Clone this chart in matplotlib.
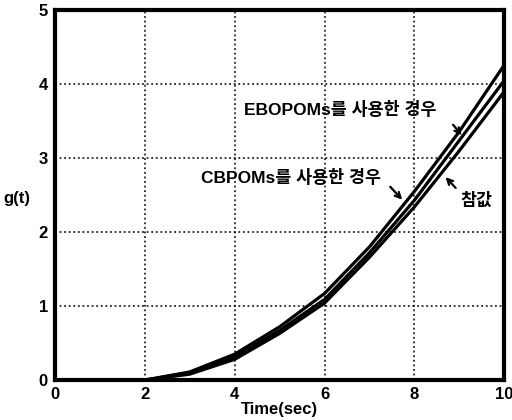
import numpy as np
import matplotlib
matplotlib.use("Agg")
import matplotlib.pyplot as plt

plt.rcParams['font.family'] = ['Liberation Sans', 'Noto Sans CJK KR']
plt.rcParams['font.weight'] = 'bold'

# values
t = [0, 1, 2, 3, 4, 5, 6, 7, 8, 9, 10]
g_ebopoms = [0, 0, 0, 0.11, 0.35, 0.72, 1.17, 1.80, 2.55, 3.36, 4.26]
g_cbpoms = [0, 0, 0, 0.10, 0.31, 0.67, 1.09, 1.72, 2.43, 3.24, 4.05]
g_true = [0, 0, 0, 0.08, 0.28, 0.63, 1.04, 1.66, 2.34, 3.10, 3.90]

fig = plt.figure(figsize=(5.12, 4.2), dpi=100)
ax = fig.add_axes([0.107, 0.095, 0.878, 0.881])

for y in (g_ebopoms, g_cbpoms, g_true):
    ax.plot(t, y, color='black', linewidth=2.3)

ax.set_xlim(0, 10)
ax.set_ylim(0, 5)
ax.set_xticks([0, 2, 4, 6, 8, 10])
ax.set_yticks([0, 1, 2, 3, 4, 5])
ax.grid(True, color='black', linestyle=(0, (1.2, 1.8)), linewidth=1.1)
ax.tick_params(direction='in', length=0, labelsize=12, pad=5)
for lab in ax.get_xticklabels() + ax.get_yticklabels():
    lab.set_fontweight('bold')
for s in ax.spines.values():
    s.set_linewidth(3)

ax.set_xlabel('Time(sec)', fontsize=12, fontweight='bold', labelpad=0)
ax.set_ylabel('g(t)', fontsize=12, fontweight='bold', rotation=0, va='center')
ax.yaxis.set_label_coords(-0.085, 0.49)

arrow = dict(arrowstyle='->', color='black', lw=1.6)
ax.text(6.36, 3.65, 'EBOPOMs를 사용한 경우', ha='center', va='center',
        fontsize=12.5, fontweight='bold')
ax.annotate('', xy=(9.09, 3.28), xytext=(8.82, 3.48), arrowprops=arrow)
ax.text(5.26, 2.74, 'CBPOMs를 사용한 경우', ha='center', va='center',
        fontsize=12.5, fontweight='bold')
ax.annotate('', xy=(7.77, 2.41), xytext=(7.42, 2.64), arrowprops=arrow)
ax.text(9.38, 2.43, '참값', ha='center', va='center', fontsize=12.5, fontweight='bold')
ax.annotate('', xy=(8.65, 2.77), xytext=(8.96, 2.57), arrowprops=arrow)

fig.savefig('out.png', dpi=100)
